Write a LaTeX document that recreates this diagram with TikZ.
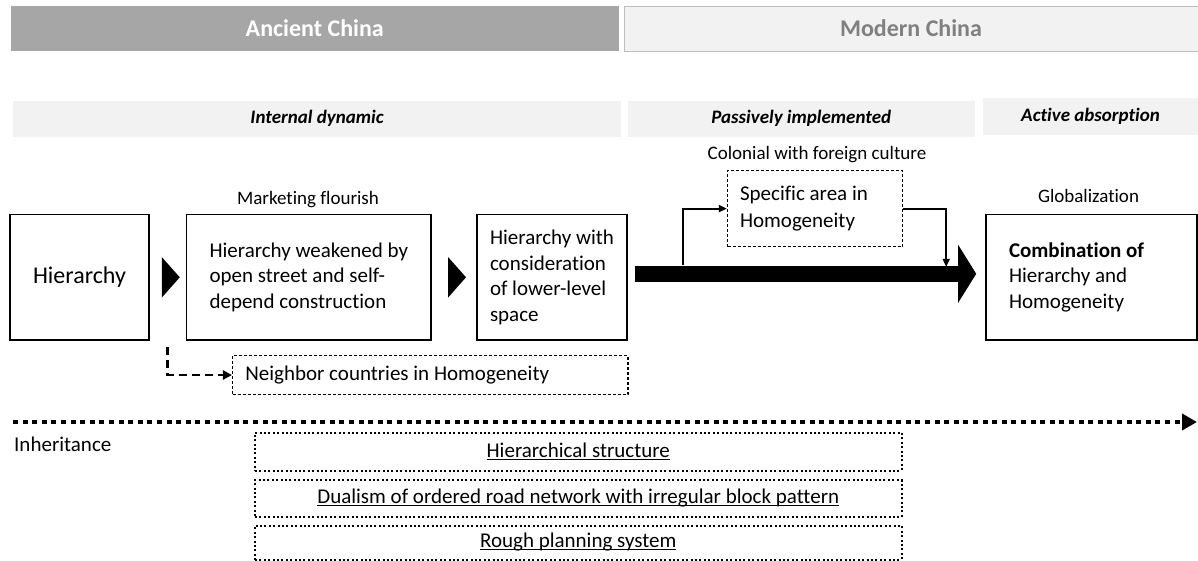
\documentclass[tikz,border=0pt]{standalone}
\usepackage{fontspec}
\setmainfont{Carlito}[Ligatures=NoCommon]
\usepackage{xcolor}
\usetikzlibrary{positioning, arrows.meta, calc}
\definecolor{ancientfill}{RGB}{166,166,166}
\definecolor{panelfill}{RGB}{242,242,242}
\definecolor{modernline}{RGB}{191,191,191}
\definecolor{moderntext}{RGB}{128,128,128}
\newcommand{\undertext}[1]{$\underline{\smash{\hbox{#1}}}\vphantom{\hbox{#1}}$}
\newcommand{\natspace}{\spaceskip=0pt \xspaceskip=0pt }

\begin{document}
\begin{tikzpicture}[x=1pt, y=-1pt,
  era/.style={minimum height=45pt, inner sep=0pt, font=\fontsize{24}{29}\selectfont\bfseries},
  phase/.style={fill=panelfill, inner sep=0pt, font=\fontsize{19}{23}\selectfont\bfseries\itshape},
  stage/.style={draw, line width=1.6pt, minimum height=125.4pt, inner sep=0pt, align=left, font=\fontsize{21}{25.5}\selectfont},
  remark/.style={inner sep=0pt, font=\fontsize{19}{23}\selectfont},
  aside/.style={draw, line width=1.3pt, dash pattern=on 3pt off 2pt, inner sep=0pt, align=left, font=\fontsize{21}{27}\selectfont},
  legacy/.style={draw, line width=2pt, dash pattern=on 2pt off 2.4pt, minimum width=646.5pt, minimum height=37pt, inner sep=0pt, font=\fontsize{21}{25}\selectfont},
  feed/.style={line width=1.8pt, -{Triangle[length=8pt,width=7pt]}}]
  \useasboundingbox (0,0) rectangle (1198,560);

  % Periods
  \node[era, fill=ancientfill, text=white, minimum width=608.5pt] (ancient) at (314.75,28.5) {Ancient China};
  \node[era, fill=panelfill, draw=modernline, line width=1pt, text=moderntext, minimum width=574pt] (modern) at (911,28.5) {Modern China};

  % Phases
  \node[phase, minimum width=608pt, minimum height=36.3pt] (internal) at (317,118.8) {Internal dynamic};
  \node[phase, minimum width=347.5pt, minimum height=36.3pt] (passive) at (801.25,118.8) {Passively implemented};
  \node[phase, minimum width=215pt, minimum height=37.4pt] (active) at (1090.5,116.3) {Active absorption};

  % Stages
  \node[stage, minimum width=139pt, font=\fontsize{24}{29}\selectfont] (hier) at (79.5,277.3) {Hierarchy};
  \node[stage, minimum width=244.5pt] (weak) at (308.75,277.3) {Hierarchy weakened by\\open street and self-\\depend construction};
  \node[stage, minimum width=150pt] (low) at (552,277.3) {Hierarchy with\\consideration\\of lower-level\\space};
  \node[stage, minimum width=211pt, text width=165pt] (combo) at (1091.5,277.3) {\natspace\textbf{Combination of}\\Hierarchy and\\Homogeneity};

  \node[remark] (market) at (308,200) {Marketing flourish};
  \node[remark] (colonial) at (817,155) {Colonial with foreign culture};
  \node[remark] (global) at (1088.5,196) {Globalization};

  % Side branches
  \node[aside, minimum width=175pt, minimum height=76.3pt, text width=150pt] (spec) at (815,208.6) {\natspace Specific area in\\Homogeneity};
  \node[aside, minimum width=395.4pt, minimum height=39pt, text width=370pt] (nbr) at (430.3,375) {\natspace Neighbor countries in Homogeneity};

  % Chevrons
  \foreach \a/\b in {hier/weak, weak/low}
    \fill ($(\a.east)!0.5!(\b.west)+(-6,-20.3)$) -- ++(18,20.3) -- ++(-18,20.3) -- cycle;

  % Main arrow
  \coordinate (mainfrom) at ($(low.east)+(7,-3.5)$);
  \coordinate (mainto) at ($(combo.west)+(-9,-3.5)$);
  \draw[line width=16.5pt, -{Triangle[length=18pt,width=57pt]}] (mainfrom) -- (mainto);
  \coordinate (rise) at ($(mainfrom)+(48,-8.5)$);
  \coordinate (fall) at ($(mainto)+(-30,-7)$);
  \draw[feed] (rise) |- (spec.west);
  \draw[feed] (spec.east) -| (fall);

  \coordinate (split) at (167.5,347);
  \draw[line width=2.2pt, dash pattern=on 8pt off 5pt, -{Triangle[length=9pt,width=9pt]}] (split) |- (nbr.west);

  % Inheritance
  \coordinate (inhfrom) at (13,422);
  \coordinate (inhto) at (1197,422);
  \draw[line width=4pt, dash pattern=on 5pt off 4.6pt, -{Triangle[length=15pt,width=16pt]}] (inhfrom) -- (inhto);
  \node[inner sep=0pt, anchor=west, font=\fontsize{21}{25}\selectfont] (inherit) at (14,444) {Inheritance};

  \node[legacy, minimum height=38pt] (structure) at (578.25,451.5) {\undertext{Hierarchical structure}};
  \node[legacy] (dualism) at (578.25,498.5) {\undertext{Dualism of ordered road network with irregular block pattern}};
  \node[legacy, minimum height=34pt] (rough) at (578.25,542.5) {\undertext{Rough planning system}};
\end{tikzpicture}
\end{document}
